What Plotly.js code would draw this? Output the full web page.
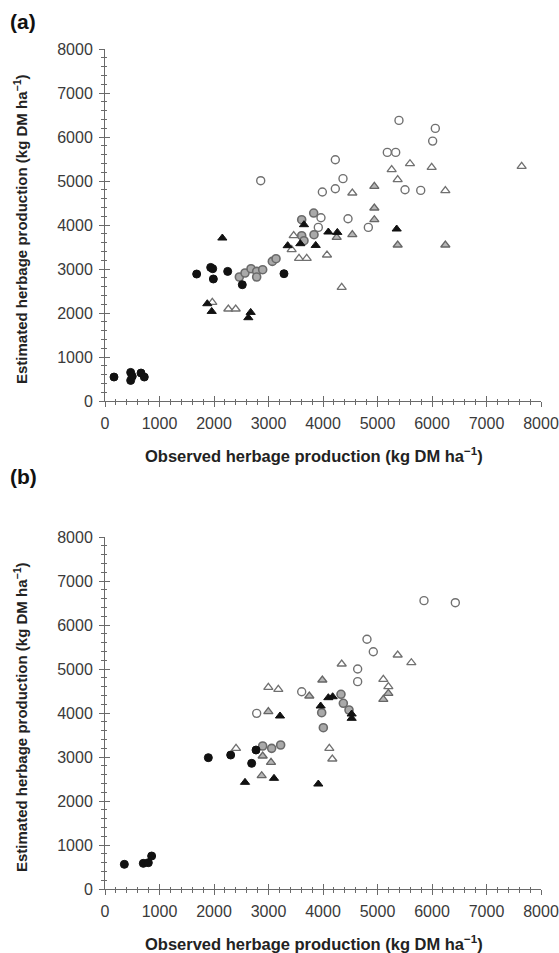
<!DOCTYPE html>
<html>
<head>
<meta charset="utf-8">
<script src="https://cdn.plot.ly/plotly-3.0.1.min.js"></script>
<style>
  html, body { margin: 0; padding: 0; background: #fff; }
  #chart { width: 559px; height: 953px; }
</style>
</head>
<body>
<div id="chart"></div>
<script>
// Observed vs estimated herbage production (kg DM/ha), two panels.

// ---- Panel (a) ----
const aBlackCircleX = [165, 471, 471, 500, 661, 721, 1682, 1939, 1976, 1988, 2251, 2519, 3284];
const aBlackCircleY = [545, 650, 468, 560, 636, 545, 2886, 3036, 3007, 2773, 2946, 2643, 2893];

const aGreyCircleX = [2465, 2569, 2679, 2783, 2893, 2783, 3070, 3138, 3609, 3829, 3609, 3835, 3651];
const aGreyCircleY = [2818, 2909, 3007, 2946, 2984, 2818, 3173, 3234, 4120, 4272, 3757, 3780, 3643];

const aOpenCircleX = [2857, 3988, 4226, 4226, 4367, 5394, 6061, 6012, 5180, 5334, 5505, 5793, 4459, 4832, 3963, 3914];
const aOpenCircleY = [5007, 4750, 4825, 5484, 5053, 6377, 6195, 5907, 5650, 5650, 4802, 4786, 4143, 3945, 4166, 3945];

const aBlackTriX = [2153, 3651, 4098, 4263, 3352, 3584, 3866, 5352, 1877, 1958, 2673, 2630];
const aBlackTriY = [3704, 4007, 3841, 3832, 3530, 3575, 3536, 3909, 2211, 2036, 2014, 1893];

const aOpenTriX = [3462, 3425, 3560, 3701, 4073, 1969, 2263, 2398, 4343, 5596, 5994, 5260, 7645, 5370, 4538, 6245];
const aOpenTriY = [3757, 3439, 3241, 3241, 3318, 2241, 2091, 2091, 2582, 5393, 5309, 5257, 5332, 5030, 4727, 4780];

const aGreyTriX = [4251, 4538, 4942, 4942, 4942, 5370, 6245];
const aGreyTriY = [3718, 3780, 4877, 4386, 4120, 3545, 3545];

// ---- Panel (b) ----
const bBlackCircleX = [355, 703, 795, 856, 1896, 2306, 2691, 2771];
const bBlackCircleY = [561, 583, 598, 750, 2985, 3045, 2856, 3159];

const bGreyCircleX = [2893, 3058, 3223, 3976, 4006, 4330, 4373, 4477];
const bGreyCircleY = [3250, 3197, 3273, 4007, 3666, 4425, 4220, 4068];

const bOpenCircleX = [2783, 3609, 4636, 4636, 4807, 4923, 5853, 6428];
const bOpenCircleY = [3992, 4484, 5000, 4712, 5675, 5393, 6553, 6507];

const bBlackTriX = [2569, 3101, 3211, 4098, 4177, 3957, 3914, 4526, 4526];
const bBlackTriY = [2424, 2515, 3932, 4348, 4370, 4159, 2386, 3879, 3977];

const bOpenTriX = [2404, 2997, 3180, 4116, 4171, 4343, 5370, 5621, 5107, 5199];
const bOpenTriY = [3197, 4584, 4538, 3197, 2955, 5114, 5318, 5143, 4766, 4598];

const bGreyTriX = [2893, 3046, 2875, 2997, 3749, 3988, 5199, 5107];
const bGreyTriY = [3023, 2880, 2575, 4030, 4386, 4750, 4447, 4311];

const tickValues = [0, 1000, 2000, 3000, 4000, 5000, 6000, 7000, 8000];
const panelLabels = ['(a)', '(b)'];
const xTitle = 'Observed herbage production (kg DM ha<sup>−1</sup>)';
const yTitle = 'Estimated herbage production (kg DM ha<sup>−1</sup>)';

// ---- page geometry (pixels) ----
const W = 559, H = 953;
const fx = p => p / W;
const fy = p => 1 - p / H;
const plotLeft = 105, plotRight = 541;
const panelTop = [49, 537], panelBottom = [401, 889];
const labelCenterY = [21, 476];

const FONT = 'Liberation Sans, Arial, Helvetica, sans-serif';

const styles = {
  blackCircle: { symbol: 'circle', size: 8, color: '#111', line: { color: '#111', width: 1 } },
  greyCircle:  { symbol: 'circle', size: 8, color: '#a9a9a9', line: { color: '#6a6a6a', width: 1.6 } },
  openCircle:  { symbol: 'circle', size: 8, color: '#fff', line: { color: '#707070', width: 1.4 } },
  blackTri:    { symbol: 'triangle-up', size: 8, color: '#111', line: { color: '#111', width: 1 } },
  openTri:     { symbol: 'triangle-up', size: 8, color: '#fff', line: { color: '#707070', width: 1.3 } },
  greyTri:     { symbol: 'triangle-up', size: 8, color: '#b5b5b5', line: { color: '#666', width: 1.3 } }
};

function series(x, y, style, xa, ya) {
  return {
    type: 'scatter', mode: 'markers', x: x, y: y,
    xaxis: xa, yaxis: ya, marker: style, hoverinfo: 'x+y', showlegend: false
  };
}

const traces = [
  series(aOpenTriX, aOpenTriY, styles.openTri, 'x', 'y'),
  series(aGreyTriX, aGreyTriY, styles.greyTri, 'x', 'y'),
  series(aOpenCircleX, aOpenCircleY, styles.openCircle, 'x', 'y'),
  series(aGreyCircleX, aGreyCircleY, styles.greyCircle, 'x', 'y'),
  series(aBlackCircleX, aBlackCircleY, styles.blackCircle, 'x', 'y'),
  series(aBlackTriX, aBlackTriY, styles.blackTri, 'x', 'y'),

  series(bOpenTriX, bOpenTriY, styles.openTri, 'x2', 'y2'),
  series(bGreyTriX, bGreyTriY, styles.greyTri, 'x2', 'y2'),
  series(bOpenCircleX, bOpenCircleY, styles.openCircle, 'x2', 'y2'),
  series(bGreyCircleX, bGreyCircleY, styles.greyCircle, 'x2', 'y2'),
  series(bBlackCircleX, bBlackCircleY, styles.blackCircle, 'x2', 'y2'),
  series(bBlackTriX, bBlackTriY, styles.blackTri, 'x2', 'y2'),

  // empty traces so the inner-tick overlay axes get drawn
  { type: 'scatter', x: [], y: [], xaxis: 'x3', yaxis: 'y', showlegend: false },
  { type: 'scatter', x: [], y: [], xaxis: 'x', yaxis: 'y3', showlegend: false },
  { type: 'scatter', x: [], y: [], xaxis: 'x4', yaxis: 'y2', showlegend: false },
  { type: 'scatter', x: [], y: [], xaxis: 'x2', yaxis: 'y4', showlegend: false }
];

const AXIS_COLOR = '#6a6a6a';

function mainAxis(domain, anchor) {
  return {
    domain: domain, anchor: anchor, range: [0, 8000], fixedrange: true,
    tickvals: tickValues, ticks: 'outside', ticklen: 5, tickwidth: 1, tickcolor: AXIS_COLOR,
    showline: true, linecolor: AXIS_COLOR, linewidth: 1,
    showgrid: false, zeroline: false,
    ticklabelstandoff: 3,
    tickfont: { family: FONT, size: 16, color: '#3a3a3a' },
    minor: { dtick: 200, ticks: 'outside', ticklen: 3, tickcolor: AXIS_COLOR, tickwidth: 1, showgrid: false }
  };
}
function innerAxis(overlay, anchor) {
  return {
    overlaying: overlay, anchor: anchor, range: [0, 8000], fixedrange: true,
    tickvals: tickValues, ticks: 'inside', ticklen: 5, tickwidth: 1, tickcolor: AXIS_COLOR,
    showline: false, showgrid: false, zeroline: false, showticklabels: false,
    minor: { dtick: 200, ticks: 'inside', ticklen: 2, tickcolor: AXIS_COLOR, tickwidth: 1, showgrid: false }
  };
}

const xDomain = [fx(plotLeft), fx(plotRight)];
const yDomainA = [fy(panelBottom[0]), fy(panelTop[0])];
const yDomainB = [fy(panelBottom[1]), fy(panelTop[1])];

const annotations = [];
panelLabels.forEach((lab, i) => {
  const top = panelTop[i], bottom = panelBottom[i];
  annotations.push({
    xref: 'paper', yref: 'paper', x: fx(8), y: fy(labelCenterY[i]), xanchor: 'left', yanchor: 'middle',
    text: '<b>' + lab + '</b>', showarrow: false,
    font: { family: FONT, size: 21, color: '#111' }
  });
  annotations.push({
    xref: 'paper', yref: 'paper', x: fx(314), y: fy(bottom + 54), xanchor: 'center', yanchor: 'middle',
    text: '<b>' + xTitle + '</b>', showarrow: false,
    font: { family: FONT, size: 16.5, color: '#222' }
  });
  annotations.push({
    xref: 'paper', yref: 'paper', x: fx(20), y: fy((top + bottom) / 2 + 4), xanchor: 'center', yanchor: 'middle',
    text: '<b>' + yTitle + '</b>', textangle: -90, showarrow: false,
    font: { family: FONT, size: 15, color: '#222' }
  });
});

const layout = {
  width: W, height: H,
  margin: { l: 0, r: 0, t: 0, b: 0 },
  paper_bgcolor: '#fff', plot_bgcolor: '#fff',
  showlegend: false,
  xaxis: mainAxis(xDomain, 'y'),
  yaxis: mainAxis(yDomainA, 'x'),
  xaxis2: mainAxis(xDomain, 'y2'),
  yaxis2: mainAxis(yDomainB, 'x2'),
  xaxis3: innerAxis('x', 'y'),
  yaxis3: innerAxis('y', 'x'),
  xaxis4: innerAxis('x2', 'y2'),
  yaxis4: innerAxis('y2', 'x2'),
  annotations: annotations
};

Plotly.newPlot('chart', traces, layout, { staticPlot: true, displayModeBar: false });
</script>
</body>
</html>
